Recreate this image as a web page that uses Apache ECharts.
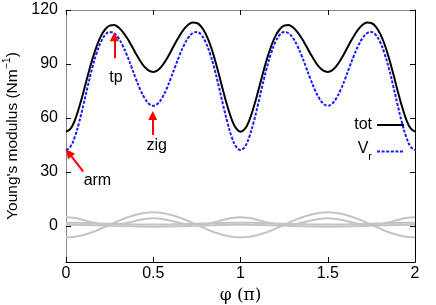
<!DOCTYPE html>
<html><head><meta charset="utf-8">
<script src="https://cdn.jsdelivr.net/npm/echarts@6/dist/echarts.min.js"></script>
<style>html,body{margin:0;padding:0;background:#fff}#c{width:436px;height:305px}</style>
</head><body><div id="c"></div>
<script>
// phi in units of pi
const phi = [0,0.025,0.05,0.075,0.1,0.125,0.15,0.175,0.2,0.225,0.25,0.275,0.3,0.325,0.35,0.375,0.4,0.425,0.45,0.475,0.5,0.525,0.55,0.575,0.6,0.625,0.65,0.675,0.7,0.725,0.75,0.775,0.8,0.825,0.85,0.875,0.9,0.925,0.95,0.975,1,1.025,1.05,1.075,1.1,1.125,1.15,1.175,1.2,1.225,1.25,1.275,1.3,1.325,1.35,1.375,1.4,1.425,1.45,1.475,1.5,1.525,1.55,1.575,1.6,1.625,1.65,1.675,1.7,1.725,1.75,1.775,1.8,1.825,1.85,1.875,1.9,1.925,1.95,1.975,2];
const tot = [52.4,53.9,58.6,65.8,74.4,83.6,92.3,99.7,105.5,109.3,111.3,111.6,110.4,107.9,104.4,100.3,95.9,91.8,88.4,86.3,85.6,86.5,88.9,92.5,96.8,101.4,105.6,109.2,111.8,113.1,112.8,110.8,106.9,101.1,93.5,84.7,75.3,66.5,59.1,54.2,52.4,
53.9,58.6,65.8,74.4,83.6,92.3,99.7,105.5,109.3,111.3,111.6,110.4,107.9,104.4,100.3,95.9,91.8,88.4,86.3,85.6,86.5,88.9,92.5,96.8,101.4,105.6,109.2,111.8,113.1,112.8,110.8,106.9,101.1,93.5,84.7,75.3,66.5,59.1,54.2,52.4];
const vr = [42.2,44.0,49.4,57.5,67.4,77.8,87.6,95.9,102.2,106.2,107.8,107.1,104.5,100.2,94.7,88.4,81.9,75.9,71.1,67.9,66.8,67.9,71.1,75.9,81.9,88.4,94.7,100.2,104.5,107.1,107.8,106.2,102.2,95.9,87.6,77.8,67.4,57.5,49.4,44.0,42.2,
44.0,49.4,57.5,67.4,77.8,87.6,95.9,102.2,106.2,107.8,107.1,104.5,100.2,94.7,88.4,81.9,75.9,71.1,67.9,66.8,67.9,71.1,75.9,81.9,88.4,94.7,100.2,104.5,107.1,107.8,106.2,102.2,95.9,87.6,77.8,67.4,57.5,49.4,44.0,42.2];
const phiG = [0,0.05,0.1,0.15,0.2,0.25,0.3,0.35,0.4,0.45,0.5,0.55,0.6,0.65,0.7,0.75,0.8,0.85,0.9,0.95,1,1.05,1.1,1.15,1.2,1.25,1.3,1.35,1.4,1.45,1.5,1.55,1.6,1.65,1.7,1.75,1.8,1.85,1.9,1.95,2];
const g1 = [-6.3,-5.96,-4.97,-3.44,-1.5,0.65,2.8,4.74,6.27,7.26,7.6,7.26,6.27,4.74,2.8,0.65,-1.5,-3.44,-4.97,-5.96,-6.3,-5.96,-4.97,-3.44,-1.5,0.65,2.8,4.74,6.27,7.26,7.6,7.26,6.27,4.74,2.8,0.65,-1.5,-3.44,-4.97,-5.96,-6.3];
const g2 = [4.8,4.41,3.37,2.08,1.01,0.55,0.86,1.79,2.97,3.93,4.3,3.93,2.97,1.79,0.86,0.55,1.01,2.08,3.37,4.41,4.8,4.41,3.37,2.08,1.01,0.55,0.86,1.79,2.97,3.93,4.3,3.93,2.97,1.79,0.86,0.55,1.01,2.08,3.37,4.41,4.8];
const g3 = [1.8,1.78,1.7,1.59,1.45,1.3,1.15,1.01,0.9,0.82,0.8,0.82,0.9,1.01,1.15,1.3,1.45,1.59,1.7,1.78,1.8,1.78,1.7,1.59,1.45,1.3,1.15,1.01,0.9,0.82,0.8,0.82,0.9,1.01,1.15,1.3,1.45,1.59,1.7,1.78,1.8];
const g4 = [0.65,0.63,0.55,0.44,0.3,0.15,0,-0.14,-0.25,-0.33,-0.35,-0.33,-0.25,-0.14,0,0.15,0.3,0.44,0.55,0.63,0.65,0.63,0.55,0.44,0.3,0.15,0,-0.14,-0.25,-0.33,-0.35,-0.33,-0.25,-0.14,0,0.15,0.3,0.44,0.55,0.63,0.65];
const yTicks = [0,30,60,90,120];
const xTicks = [0,0.5,1,1.5,2];

const pairs = (xs, ys) => xs.map((x, i) => [x, ys[i]]);
const FONT = '"Liberation Sans", Arial, sans-serif';
const chart = echarts.init(document.getElementById('c'), null, {renderer: 'canvas'});
const axLine = c => ({show: true, onZero: false, lineStyle: {color: c, width: 1}});
const grayLine = ys => ({type: 'line', data: pairs(phiG, ys), symbol: 'none', smooth: 0.4, silent: true, z: 1,
  lineStyle: {color: '#c4c4c4', width: 2}});

chart.setOption({
  animation: false,
  textStyle: {fontFamily: FONT},
  grid: {left: 66, right: 21, top: 10, bottom: 43, containLabel: false, outerBoundsMode: 'none'},
  xAxis: [{
    type: 'value', min: 0, max: 2, interval: 0.5,
    axisLine: axLine('#000'),
    axisTick: {inside: true, length: 5, customValues: xTicks, lineStyle: {color: '#000'}},
    axisLabel: {customValues: xTicks, fontSize: 16, color: '#000', margin: 4, fontFamily: FONT},
    splitLine: {show: false},
    name: 'φ (π)', nameLocation: 'middle', nameGap: 18,
    nameTextStyle: {fontSize: 17, color: '#000', fontFamily: '"DejaVu Serif", serif'}
  }, {
    type: 'value', position: 'top', min: 0, max: 2, interval: 0.5,
    axisLine: axLine('#8a8a8a'),
    axisTick: {inside: true, length: 5, customValues: xTicks, lineStyle: {color: '#000'}},
    axisLabel: {show: false}, splitLine: {show: false}
  }],
  yAxis: [{
    type: 'value', min: -20, max: 120,
    axisLine: axLine('#8a8a8a'),
    axisTick: {show: true, inside: true, length: 5, customValues: yTicks, lineStyle: {color: '#000'}},
    axisLabel: {customValues: yTicks, fontSize: 16, color: '#000', margin: 8, fontFamily: FONT},
    splitLine: {show: false},
    name: "{a|Young's modulus (Nm}{s|−1}{a|)}", nameLocation: 'middle', nameGap: 33, nameRotate: 90,
    nameTextStyle: {fontSize: 15.5, color: '#000', fontFamily: FONT,
      rich: {a: {fontSize: 15.5, lineHeight: 19, verticalAlign: 'bottom', fontFamily: FONT, color: '#000'},
             s: {fontSize: 10.5, lineHeight: 11, verticalAlign: 'bottom', padding: [0, 0, 8, 0], fontFamily: FONT, color: '#000'}}}
  }, {
    type: 'value', position: 'right', min: -20, max: 120,
    axisLine: axLine('#000'),
    axisTick: {show: true, inside: true, length: 5, customValues: yTicks, lineStyle: {color: '#000'}},
    axisLabel: {show: false}, splitLine: {show: false}
  }],
  legend: {
    data: ['tot', 'Vr'], orient: 'vertical', right: 31, top: 117, align: 'right',
    itemWidth: 27, itemHeight: 14, itemGap: 8, padding: 0,
    itemStyle: {opacity: 0},
    textStyle: {fontSize: 16, color: '#000', fontFamily: FONT,
      rich: {v: {fontSize: 16, verticalAlign: 'bottom', padding: [0, 0, 5, 0], fontFamily: FONT, color: '#000'},
             s: {fontSize: 11, verticalAlign: 'bottom', fontFamily: FONT, color: '#000'}}},
    formatter: n => n === 'Vr' ? '{v|V}{s|r}' : n
  },
  series: [
    grayLine(g1), grayLine(g2), grayLine(g3), grayLine(g4),
    {name: 'tot', type: 'line', data: pairs(phi, tot), symbol: 'none', smooth: 0.4, z: 3,
     itemStyle: {color: '#000'}, lineStyle: {color: '#000', width: 2}},
    {name: 'Vr', type: 'line', data: pairs(phi, vr), symbol: 'none', smooth: 0.4, z: 4,
     itemStyle: {color: '#1a1aff'}, lineStyle: {color: '#1a1aff', width: 2, type: [3, 1.6]}},
    {name: 'notes', type: 'line', data: [], z: 5, silent: true,
     markLine: {silent: true, symbol: ['none', 'triangle'], symbolSize: 9, animation: false,
       label: {show: false}, lineStyle: {color: '#ff0000', width: 2, type: 'solid'},
       data: [
         [{coord: [0.277, 93.2]}, {coord: [0.277, 105.1]}],
         [{coord: [0.497, 50.6]}, {coord: [0.497, 61.4]}],
         [{coord: [0.099, 30.2]}, {coord: [0.016, 40.6]}]
       ]},
     markPoint: {silent: true, symbol: 'circle', symbolSize: 1, itemStyle: {color: 'rgba(0,0,0,0)'},
       label: {show: true, position: 'inside', color: '#000', fontSize: 16, fontFamily: FONT, formatter: p => p.name},
       data: [
         {name: 'tp', coord: [0.286, 82.4]},
         {name: 'zig', coord: [0.52, 44.8]},
         {name: 'arm', coord: [0.18, 25.2]}
       ]}
    }
  ]
});
</script></body></html>
